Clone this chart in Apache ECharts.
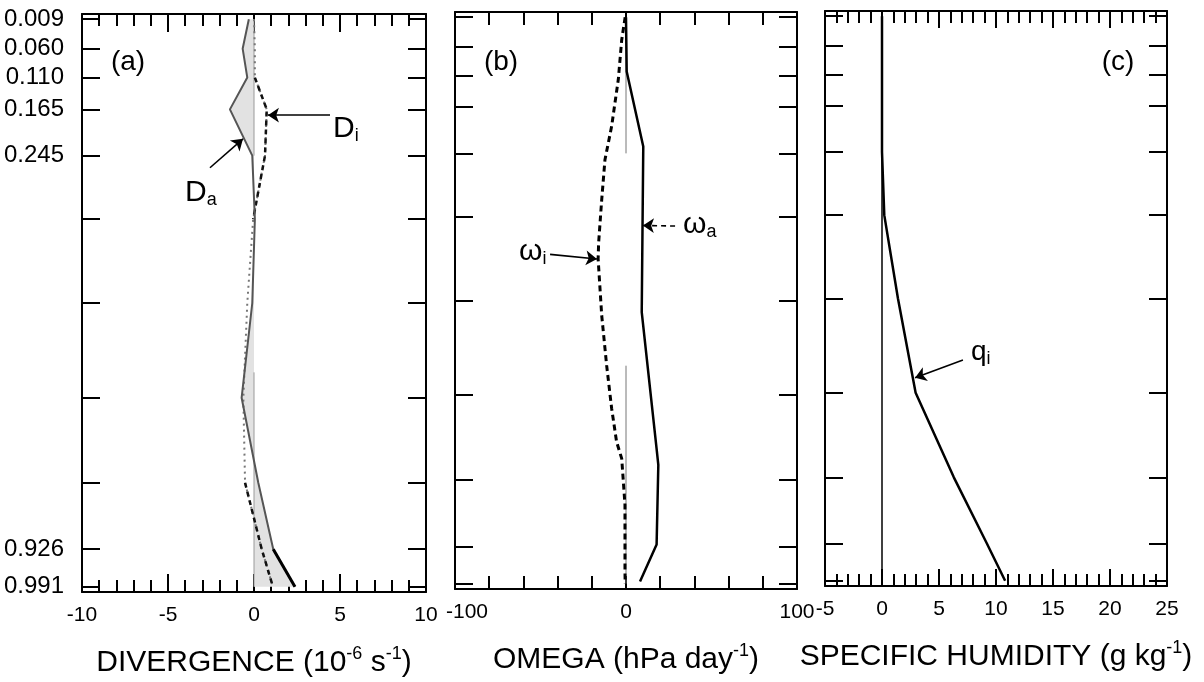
<!DOCTYPE html>
<html><head><meta charset="utf-8">
<script src="https://cdn.jsdelivr.net/npm/echarts@6/dist/echarts.min.js"></script>
<style>html,body{margin:0;padding:0;background:#fff}#c{width:1204px;height:682px}</style>
</head><body><div id="c"></div>
<script>
// ---- data (sigma levels) ----
const sigmaLevels = [0.009, 0.060, 0.110, 0.165, 0.245, 0.355, 0.500, 0.664, 0.811, 0.926, 0.991];
const sigmaLabels = [0.009, 0.060, 0.110, 0.165, 0.245, 0.926, 0.991];
// (a) divergence, 1e-6 s-1
const divActual   = [-0.3, -0.66, -0.39, -1.4, -0.1, 0.05, -0.1, -0.72, 0.25, 1.12, 2.38];
const divInferred = [0.0, 0.05, 0.05, 0.74, 0.64, -0.05, -0.39, -0.62, -0.52, 0.45, 1.1];
// (b) omega, hPa/day
const omegaActualSigma = [0.009, 0.103, 0.233, 0.52, 0.757, 0.785, 0.923, 0.987];
const omegaActual      = [0, 0.4, 10.1, 9.2, 17.9, 18.9, 17.9, 8.2];
const omegaInferredSigma = [0.009, 0.048, 0.117, 0.198, 0.256, 0.325, 0.40, 0.428, 0.526, 0.613, 0.687, 0.745, 0.774, 0.854, 0.969, 0.991];
const omegaInferred      = [-0.5, -2.5, -4.5, -8.4, -12.3, -14.2, -16.0, -16.3, -14.2, -11.3, -8.4, -5.5, -2.5, -0.6, -0.6, -0.5];
// (c) specific humidity, g/kg
const qSigma    = [0.009, 0.245, 0.355, 0.500, 0.664, 0.811, 0.926, 0.991];
const qInferred = [0, 0, 0.2, 1.4, 2.95, 6.3, 9.2, 10.8];
// zero reference line spans (sigma ranges)
const zeroSpansA = [[0.009, 0.245], [0.62, 0.991]];
const zeroSpansB = [[0.009, 0.245], [0.613, 0.991]];
const zeroSpansC = [[0, 1]];

// ---- annotation arrows (data coords: [value, sigma]) ----
const arrowDi = [[4.42, 0.175], [0.81, 0.175]];
const arrowDa = [[-2.56, 0.266], [-0.64, 0.216]];
const arrowWi = [[-44.4, 0.42], [-17, 0.428]];
const arrowWa = [[28.7, 0.371], [9.9, 0.370]];
const arrowQi = [[7.1, 0.607], [2.9, 0.638]];

const FONT = 'Liberation Sans, Arial, Helvetica, sans-serif';
const pairs = (vals, sig) => vals.map((v, i) => [v, sig[i]]);

const grids = [
  {left: 82, top: 14, width: 344, height: 578},
  {left: 455, top: 12, width: 342, height: 577},
  {left: 825, top: 11, width: 342, height: 575}
].map(g => Object.assign({containLabel: false, outerBoundsMode: 'none', show: false}, g));

const titleRich = {
  t: {fontSize: 30, lineHeight: 36, fontFamily: FONT, color: '#000'},
  p: {fontSize: 18, lineHeight: 20, verticalAlign: 'top', fontFamily: FONT, color: '#000'}
};

function xPair(g, min, max, interval, split, majorLen, minorLen, name, shiftMin) {
  const base = {
    type: 'value', gridIndex: g, min, max, interval,
    axisLine: {show: true, onZero: false, lineStyle: {color: '#000', width: 2}},
    axisTick: {show: true, inside: true, length: majorLen, lineStyle: {color: '#000', width: 2}},
    minorTick: {show: true, splitNumber: split, length: minorLen, lineStyle: {color: '#000', width: 2}},
    splitLine: {show: false}, minorSplitLine: {show: false}
  };
  const bottom = Object.assign({}, base, {
    position: 'bottom',
    axisLabel: {
      show: true, fontSize: 21, color: '#000', margin: 13, fontFamily: FONT, hideOverlap: false,
      formatter: v => (shiftMin && v === min) ? '{l|' + v + '}' : String(v),
      rich: {l: {fontSize: 21, fontFamily: FONT, color: '#000', padding: [0, 0, 0, 24]}}
    },
    name, nameLocation: 'middle', nameGap: 53,
    nameTextStyle: {rich: titleRich}
  });
  const top = Object.assign({}, base, {position: 'top', axisLabel: {show: false}});
  return [bottom, top];
}
function yPair(g, showLabels) {
  const base = {
    type: 'value', gridIndex: g, min: 0, max: 1, inverse: true,
    axisLine: {show: true, onZero: false, lineStyle: {color: '#000', width: 2}},
    axisTick: {show: true, inside: true, length: 18, lineStyle: {color: '#000', width: 2}, customValues: sigmaLevels},
    splitLine: {show: false}
  };
  const left = Object.assign({}, base, {
    position: 'left',
    axisLabel: {show: showLabels, customValues: sigmaLabels, formatter: v => Number(v).toFixed(3),
      fontSize: 24, color: '#000', margin: 18, fontFamily: FONT}
  });
  const right = Object.assign({}, base, {position: 'right', axisLabel: {show: false}});
  return [left, right];
}

const xAxis = [
  ...xPair(0, -10, 10, 5, 5, 18, 12, '{t|DIVERGENCE (10}{p|-6}{t| s}{p|-1}{t|)}', false),
  ...xPair(1, -100, 100, 100, 5, 13, 13, '{t|OMEGA (hPa day}{p|-1}{t|)}', true),
  ...xPair(2, -5, 25, 5, 5, 17, 12, '{t|SPECIFIC HUMIDITY (g kg}{p|-1}{t|)}', false)
];
const yAxis = [...yPair(0, true), ...yPair(1, false), ...yPair(2, false)];

function arrowML(arr, dashed) {
  return {
    silent: true, symbol: ['none', 'arrow'], symbolSize: 11,
    label: {show: false},
    lineStyle: {color: '#000', width: 1.6, type: dashed ? [5, 4] : 'solid'},
    emphasis: {disabled: true},
    data: [[{coord: arr[0]}, {coord: arr[1]}]]
  };
}
function lineSeries(g, data, style, extra) {
  return Object.assign({
    type: 'line', xAxisIndex: 2 * g, yAxisIndex: 2 * g, data,
    showSymbol: false, symbol: 'none', silent: true, animation: false,
    lineStyle: style, z: 3
  }, extra || {});
}
function zeroSeries(g, spans, style) {
  return spans.map(s => lineSeries(g, [[0, s[0]], [0, s[1]]], style, {z: 2}));
}

const series = [
  // shading between actual divergence and zero
  {
    type: 'custom', xAxisIndex: 0, yAxisIndex: 0, data: [[0, 0]], silent: true, z: 1,
    renderItem: (params, api) => {
      const pts = divActual.map((v, i) => api.coord([v, sigmaLevels[i]]));
      pts.push(api.coord([0, sigmaLevels[sigmaLevels.length - 1]]));
      pts.push(api.coord([0, sigmaLevels[0]]));
      return {type: 'polygon', shape: {points: pts}, style: {fill: '#e2e2e2', stroke: null}};
    }
  },
  ...zeroSeries(0, zeroSpansA, {color: '#9a9a9a', width: 1}),
  ...zeroSeries(1, zeroSpansB, {color: '#777', width: 1}),
  ...zeroSeries(2, zeroSpansC, {color: '#000', width: 1.5}),
  // (a)
  lineSeries(0, pairs(divInferred, sigmaLevels), {color: '#777', width: 2, type: [2, 4]}),
  lineSeries(0, pairs(divInferred.slice(2, 6), sigmaLevels.slice(2, 6)), {color: '#111', width: 2.5, type: [5, 4]},
    {markLine: arrowML(arrowDi, false)}),
  lineSeries(0, pairs(divInferred.slice(8), sigmaLevels.slice(8)), {color: '#111', width: 2.5, type: [5, 4]}),
  lineSeries(0, pairs(divActual, sigmaLevels), {color: '#555', width: 2},
    {markLine: arrowML(arrowDa, false)}),
  lineSeries(0, pairs(divActual.slice(9), sigmaLevels.slice(9)), {color: '#000', width: 3}),
  // (b)
  lineSeries(1, pairs(omegaInferred, omegaInferredSigma), {color: '#000', width: 3, type: [6, 4]},
    {markLine: arrowML(arrowWi, false)}),
  lineSeries(1, pairs(omegaActual, omegaActualSigma), {color: '#000', width: 2.5},
    {markLine: arrowML(arrowWa, true)}),
  // (c)
  lineSeries(2, pairs(qInferred, qSigma), {color: '#000', width: 2.5},
    {markLine: arrowML(arrowQi, false)})
];

function label(x, y, main, sub, mainSize) {
  return {
    type: 'text', x, y, silent: true, z: 10,
    style: {
      text: '{m|' + main + '}{s|' + sub + '}', align: 'left', verticalAlign: 'middle', fill: '#000',
      rich: {
        m: {fontSize: mainSize, lineHeight: 32, fontFamily: FONT, fill: '#000'},
        s: {fontSize: 18, lineHeight: 18, verticalAlign: 'bottom', fontFamily: FONT, fill: '#000'}
      }
    }
  };
}
const panelLetter = (x, y, t) => ({
  type: 'text', x, y, silent: true, z: 10,
  style: {text: t, fontSize: 28, fontFamily: FONT, fill: '#000', align: 'center', verticalAlign: 'middle'}
});

const option = {
  animation: false,
  textStyle: {fontFamily: FONT, color: '#000'},
  grid: grids, xAxis, yAxis, series,
  graphic: [
    panelLetter(128, 62, '(a)'), panelLetter(501, 62, '(b)'), panelLetter(1118, 62, '(c)'),
    label(333, 129, 'D', 'i', 30),
    label(185, 193, 'D', 'a', 30),
    label(519, 252, 'ω', 'i', 30),
    label(683, 225, 'ω', 'a', 30),
    label(971, 352, 'q', 'i', 28)
  ]
};
const chart = echarts.init(document.getElementById('c'), null, {renderer: 'canvas'});
chart.setOption(option);
</script></body></html>
